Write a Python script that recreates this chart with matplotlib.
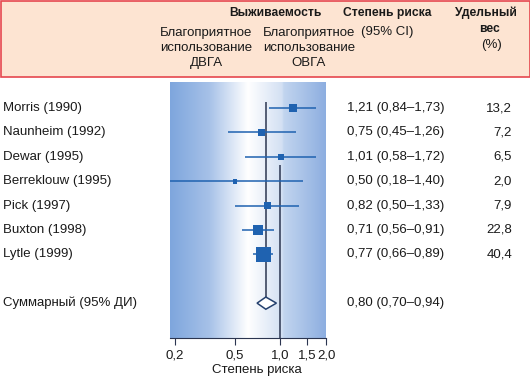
import numpy as np
import matplotlib.pyplot as plt
from matplotlib.patches import Rectangle
from matplotlib.colors import LinearSegmentedColormap

plt.rcParams['font.family'] = ['Liberation Sans Narrow', 'Liberation Sans', 'DejaVu Sans']

# data
studies = ['Morris (1990)', 'Naunheim (1992)', 'Dewar (1995)', 'Berreklouw (1995)',
           'Pick (1997)', 'Buxton (1998)', 'Lytle (1999)']
hr = [1.21, 0.75, 1.01, 0.50, 0.82, 0.71, 0.77]
lo = [0.84, 0.45, 0.58, 0.18, 0.50, 0.56, 0.66]
hi = [1.73, 1.26, 1.72, 1.40, 1.33, 0.91, 0.89]
weights = [13.2, 7.2, 6.5, 2.0, 7.9, 22.8, 40.4]
summary_label = 'Суммарный (95% ДИ)'
summary = (0.80, 0.70, 0.94)
xticks = [0.2, 0.5, 1.0, 1.5, 2.0]
xticklabels = ['0,2', '0,5', '1,0', '1,5', '2,0']

W, H = 530, 379
fig = plt.figure(figsize=(W / 100, H / 100), dpi=100)

# header band
fig.add_artist(Rectangle((0.5 / W, 1 - 77 / H), 529 / W, 76.5 / H, transform=fig.transFigure,
                         facecolor='#fde4d2', edgecolor='#e5474e', linewidth=1.2, zorder=0))

def fx(px):
    return px / W

def fy(py):
    return 1 - py / H

txt = '#1a1a1a'
fs = 9.5
fb = 8.7
fig.text(fx(275), fy(13), 'Выживаемость', ha='center', va='center', fontsize=fb,
         fontweight='bold', color=txt)
fig.text(fx(387), fy(13), 'Степень риска', ha='center', va='center', fontsize=fb,
         fontweight='bold', color=txt)
fig.text(fx(387), fy(32), '(95% CI)', ha='center', va='center', fontsize=fs, color=txt)
fig.text(fx(486), fy(13), 'Удельный', ha='center', va='center', fontsize=fb,
         fontweight='bold', color=txt)
fig.text(fx(489), fy(29), 'вес', ha='center', va='center', fontsize=fb,
         fontweight='bold', color=txt)
fig.text(fx(491), fy(45), '(%)', ha='center', va='center', fontsize=fs, color=txt)
fig.text(fx(206), fy(48), 'Благоприятное\nиспользование\nДВГА', ha='center', va='center',
         fontsize=fs, color=txt, linespacing=1.3)
fig.text(fx(309), fy(48), 'Благоприятное\nиспользование\nОВГА', ha='center', va='center',
         fontsize=fs, color=txt, linespacing=1.3)

# forest plot axes
ax = fig.add_axes([fx(170), fy(338), fx(156), (338 - 82) / H])
ax.set_xscale('log')
ax.set_xlim(0.186, 2.0)
ax.set_ylim(9.43, -1.07)

cmap = LinearSegmentedColormap.from_list('bg', [
    (0.0, '#7ea6dd'), (0.25, '#a6c1e8'), (0.5, '#ffffff'),
    (0.72, '#d3e0f3'), (0.73, '#c2d5ef'), (1.0, '#8daee0')])
ax.imshow(np.linspace(0, 1, 256).reshape(1, -1), cmap=cmap, aspect='auto',
          extent=[0, 1, 0, 1], transform=ax.transAxes, zorder=0)

blue = '#1f62b0'
line_c = '#2b3550'
rows = np.arange(len(studies))
sum_row = len(studies) + 1

ax.vlines(summary[0], -0.25, sum_row - 0.26, color=line_c, lw=1.1, zorder=2)
ax.vlines(1.0, 2.35, 9.43, color=line_c, lw=1.1, zorder=2)
ax.hlines(rows, lo, hi, color=blue, lw=1.1, zorder=3)
sides_px = [4.3 + 0.26 * w for w in weights]
ax.scatter(hr, rows, marker='s', s=[(s * 0.72) ** 2 for s in sides_px],
           color=blue, edgecolors='none', zorder=4)

dh = 0.25
ax.fill([summary[1], summary[0], summary[2], summary[0]],
        [sum_row, sum_row - dh, sum_row, sum_row + dh],
        facecolor='white', edgecolor='#24406e', lw=1.1, zorder=4)

for s in ['top', 'left', 'right']:
    ax.spines[s].set_visible(False)
ax.spines['bottom'].set_color(line_c)
ax.spines['bottom'].set_linewidth(0.8)
ax.set_yticks([])
ax.set_xticks(xticks)
ax.set_xticklabels(xticklabels, fontsize=9.5, color=txt)
ax.xaxis.set_minor_locator(plt.NullLocator())
ax.tick_params(axis='x', direction='out', length=5, width=0.8, color=line_c, pad=3)
fig.text(fx(257), fy(370), 'Степень риска', ha='center', va='center', fontsize=fs, color=txt)

# row texts
for i, name in enumerate(studies):
    yf = ax.transData.transform((1, i))[1] / H
    fig.text(fx(3), yf, name, ha='left', va='center', fontsize=fs, color=txt)
    ci = '{:.2f} ({:.2f}–{:.2f})'.format(hr[i], lo[i], hi[i]).replace('.', ',')
    fig.text(fx(347), yf, ci, ha='left', va='center', fontsize=fs, color=txt)
    fig.text(fx(512), yf, '{:.1f}'.format(weights[i]).replace('.', ','), ha='right',
             va='center', fontsize=fs, color=txt)

ys = ax.transData.transform((1, sum_row))[1] / H
fig.text(fx(3), ys, summary_label, ha='left', va='center', fontsize=fs, color=txt)
fig.text(fx(347), ys, '{:.2f} ({:.2f}–{:.2f})'.format(*summary).replace('.', ','),
         ha='left', va='center', fontsize=fs, color=txt)

fig.savefig('out.png', dpi=100)
